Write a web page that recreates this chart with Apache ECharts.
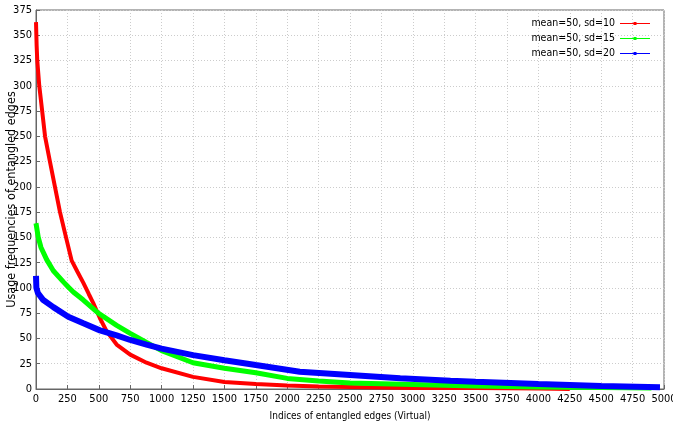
<!DOCTYPE html>
<html>
<head>
<meta charset="utf-8">
<script src="https://cdn.jsdelivr.net/npm/echarts@6/dist/echarts.min.js"></script>
<style>
  html, body { margin: 0; padding: 0; background: #fff; }
  #chart { width: 673px; height: 428px; }
</style>
</head>
<body>
<div id="chart"></div>
<script>
// values: [index, frequency]
var sd10 = [[0,363],[5,340],[10,325],[26,300],[50,274],[72,250],[111,225],[151,200],[191,175],[239,150],
  [284,127],[330,116],[377,105],[420,94],[456,85],[509,70],[563,57],[642,44],[750,34],[880,26],[1000,20.5],
  [1250,12],[1500,7],[1750,5],[2000,3.5],[2250,2.5],[2500,2],[3000,1],[3500,1],[4000,0.5],[4250,0]];
var sd15 = [[0,164],[18,150],[40,140],[85,128],[138,117],[218,106],[257,101],[297,96],[377,88],[496,75],
  [642,63],[750,55],[880,46],[1000,38],[1250,26],[1500,20.5],[1750,16],[2000,10.5],[2250,8],[2500,6],
  [3000,4.5],[3500,3],[4000,2],[4500,1.5],[4900,1]];
var sd20 = [[0,112],[3,100],[15,95],[58,88],[138,81],[257,71.5],[377,65],[509,58],[642,53],[750,48.5],
  [880,44],[1000,40],[1250,33.5],[1500,28.5],[1750,23.7],[2100,17],[2500,13.8],[2900,10.6],[3300,8.2],
  [3500,7.2],[4000,5],[4500,3],[4968,1.7]];
var seriesNames = ['mean=50, sd=10', 'mean=50, sd=15', 'mean=50, sd=20'];
var colors = ['#ff0000', '#00ff00', '#0000ff'];

var font = 'DejaVu Sans Condensed';
// legend sample: thin line with a small marker in the middle
var legendIcon = 'path://M0,4.5L30,4.5L30,5.5L0,5.5Z M13.5,3.5L16.5,3.5L16.5,6.5L13.5,6.5Z';
var chart = echarts.init(document.getElementById('chart'));

function makeSeries(name, data, color, width) {
  return {
    name: name,
    type: 'line',
    data: data,
    symbol: 'none',
    lineStyle: { color: color, width: width },
    itemStyle: { color: color },
    animation: false
  };
}

chart.setOption({
  animation: false,
  color: colors,
  grid: { left: 36, right: 9, top: 10, bottom: 39, outerBoundsMode: 'none', containLabel: false,
    show: true, borderColor: '#666', borderWidth: 1 },
  legend: {
    orient: 'vertical',
    right: 18,
    top: 13,
    align: 'right',
    itemWidth: 30,
    itemHeight: 10,
    itemGap: 4,
    icon: legendIcon,
    data: seriesNames,
    textStyle: { fontFamily: font, fontSize: 10.5, color: '#000' }
  },
  xAxis: {
    type: 'value',
    min: 0,
    max: 5000,
    interval: 250,
    name: 'Indices of entangled edges (Virtual)',
    nameLocation: 'middle',
    nameGap: 22,
    nameMoveOverlap: false,
    nameTextStyle: { fontFamily: font, fontSize: 10, color: '#000' },
    axisLine: { lineStyle: { color: '#666' } },
    axisTick: { inside: true, length: 4, lineStyle: { color: '#666' } },
    axisLabel: { fontFamily: font, fontSize: 11, color: '#000', margin: 5,
      formatter: function (v) { return String(v); } },
    splitLine: { show: true, lineStyle: { color: '#ccc', type: [1, 2] } }
  },
  yAxis: {
    type: 'value',
    min: 0,
    max: 375,
    interval: 25,
    name: 'Usage frequencies of entangled edges',
    nameLocation: 'middle',
    nameGap: 18,
    nameMoveOverlap: false,
    nameTextStyle: { fontFamily: font, fontSize: 12.5, color: '#000' },
    axisLine: { show: true, lineStyle: { color: '#666' } },
    axisTick: { show: true, inside: true, length: 4, lineStyle: { color: '#666' } },
    axisLabel: { fontFamily: font, fontSize: 11, color: '#000', margin: 4,
      formatter: function (v) { return String(v); } },
    splitLine: { show: true, lineStyle: { color: '#ccc', type: [1, 2] } }
  },
  series: [
    makeSeries(seriesNames[0], sd10, colors[0], 4),
    makeSeries(seriesNames[1], sd15, colors[1], 5),
    makeSeries(seriesNames[2], sd20, colors[2], 6)
  ]
});
</script>
</body>
</html>
